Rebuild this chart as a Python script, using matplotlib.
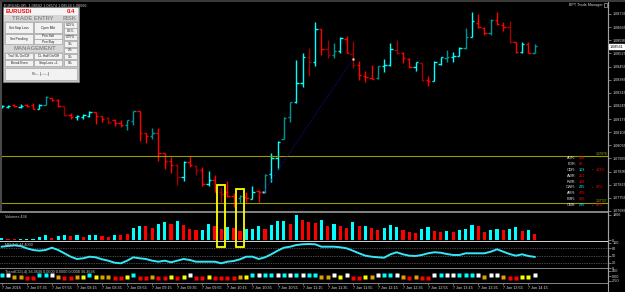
import matplotlib
matplotlib.use("Agg")
import matplotlib.pyplot as plt
import matplotlib.transforms as mtrans
from matplotlib.collections import LineCollection
from matplotlib.patches import Rectangle
from matplotlib.lines import Line2D
import numpy as np

plt.rcParams['font.family'] = ['Liberation Sans', 'DejaVu Sans']

# ------------------------------------------------------------------ data
opens = [1.08239, 1.08239, 1.08250, 1.08239, 1.08250, 1.08250, 1.08228, 1.08250, 1.08287, 1.08276,
         1.08244, 1.08196, 1.08186, 1.08186, 1.08191, 1.08212, 1.08191, 1.08180, 1.08170, 1.08154,
         1.08143, 1.08164, 1.08218, 1.08101, 1.08085, 1.08101, 1.07994, 1.07951, 1.07930, 1.07866,
         1.07946, 1.07925, 1.07903, 1.07829, 1.07850, 1.07786, 1.07786, 1.07765, 1.07754, 1.07759,
         1.07749, 1.07791, 1.07786, 1.07882, 1.07967, 1.08069, 1.08186, 1.08266, 1.08367, 1.08506,
         1.08479, 1.08655, 1.08548, 1.08516, 1.08538, 1.08602, 1.08522, 1.08463, 1.08404, 1.08394,
         1.08394, 1.08458, 1.08463, 1.08543, 1.08527, 1.08495, 1.08452, 1.08474, 1.08383, 1.08378,
         1.08468, 1.08500, 1.08506, 1.08511, 1.08554, 1.08612, 1.08687, 1.08660, 1.08634, 1.08703,
         1.08676, 1.08666, 1.08586, 1.08532, 1.08575, 1.08527]
highs = [1.08250, 1.08250, 1.08255, 1.08255, 1.08255, 1.08260, 1.08255, 1.08298, 1.08287, 1.08282,
         1.08244, 1.08207, 1.08196, 1.08202, 1.08218, 1.08212, 1.08191, 1.08186, 1.08175, 1.08170,
         1.08170, 1.08218, 1.08218, 1.08101, 1.08127, 1.08127, 1.07994, 1.07973, 1.07935, 1.07951,
         1.07978, 1.07930, 1.07919, 1.07898, 1.07877, 1.07813, 1.07845, 1.07781, 1.07770, 1.07786,
         1.07818, 1.07797, 1.07882, 1.07994, 1.08058, 1.08186, 1.08266, 1.08490, 1.08527, 1.08554,
         1.08692, 1.08655, 1.08596, 1.08580, 1.08612, 1.08618, 1.08591, 1.08484, 1.08431, 1.08463,
         1.08458, 1.08495, 1.08580, 1.08596, 1.08532, 1.08500, 1.08479, 1.08474, 1.08404, 1.08484,
         1.08506, 1.08543, 1.08532, 1.08559, 1.08660, 1.08746, 1.08735, 1.08666, 1.08708, 1.08746,
         1.08692, 1.08698, 1.08586, 1.08586, 1.08586, 1.08575]
lows = [1.08234, 1.08234, 1.08239, 1.08234, 1.08239, 1.08228, 1.08228, 1.08250, 1.08271, 1.08239,
        1.08191, 1.08175, 1.08170, 1.08175, 1.08186, 1.08149, 1.08159, 1.08149, 1.08138, 1.08133,
        1.08117, 1.08143, 1.08058, 1.08047, 1.08069, 1.07951, 1.07909, 1.07887, 1.07823, 1.07845,
        1.07919, 1.07877, 1.07818, 1.07818, 1.07786, 1.07733, 1.07759, 1.07706, 1.07727, 1.07733,
        1.07749, 1.07733, 1.07781, 1.07839, 1.07909, 1.08069, 1.08159, 1.08260, 1.08346, 1.08404,
        1.08458, 1.08516, 1.08500, 1.08500, 1.08527, 1.08527, 1.08447, 1.08383, 1.08372, 1.08388,
        1.08388, 1.08426, 1.08458, 1.08522, 1.08474, 1.08447, 1.08431, 1.08378, 1.08351, 1.08378,
        1.08463, 1.08479, 1.08479, 1.08511, 1.08548, 1.08612, 1.08660, 1.08623, 1.08623, 1.08676,
        1.08644, 1.08580, 1.08527, 1.08527, 1.08527, 1.08527]
closes = [1.08244, 1.08244, 1.08244, 1.08244, 1.08244, 1.08228, 1.08250, 1.08292, 1.08276, 1.08244,
          1.08196, 1.08186, 1.08191, 1.08196, 1.08212, 1.08191, 1.08175, 1.08159, 1.08154, 1.08143,
          1.08170, 1.08218, 1.08101, 1.08085, 1.08101, 1.07994, 1.07951, 1.07930, 1.07866, 1.07946,
          1.07930, 1.07903, 1.07829, 1.07850, 1.07786, 1.07775, 1.07765, 1.07759, 1.07765, 1.07754,
          1.07786, 1.07786, 1.07877, 1.07967, 1.08053, 1.08180, 1.08266, 1.08367, 1.08506, 1.08479,
          1.08655, 1.08548, 1.08516, 1.08538, 1.08607, 1.08527, 1.08463, 1.08410, 1.08399, 1.08388,
          1.08458, 1.08463, 1.08548, 1.08527, 1.08500, 1.08452, 1.08479, 1.08383, 1.08378, 1.08479,
          1.08506, 1.08506, 1.08511, 1.08554, 1.08612, 1.08698, 1.08666, 1.08634, 1.08703, 1.08682,
          1.08666, 1.08586, 1.08532, 1.08575, 1.08527, 1.08566]
# 1 = bar drawn in the darker shade
dark_bar = [0, 0, 0, 0, 0, 0, 0, 1, 0, 0,
            1, 0, 0, 0, 0, 0, 0, 1, 0, 0,
            1, 1, 0, 0, 1, 0, 0, 0, 1, 0,
            0, 1, 0, 0, 0, 1, 0, 0, 1, 0,
            0, 0, 1, 0, 0, 1, 1, 0, 0, 1,
            0, 0, 1, 1, 0, 0, 1, 0, 0, 0,
            1, 0, 0, 1, 0, 0, 0, 1, 0, 0,
            0, 1, 0, 0, 1, 0, 0, 0, 1, 0,
            0, 1, 0, 0, 0, 1]

volumes = [160, 80, 80, 80, 100, 100, 260, 420, 180, 340,
           420, 320, 400, 260, 420, 420, 320, 240, 420, 420,
           500, 980, 1120, 1120, 980, 1280, 1380, 1280, 1520, 1200,
           880, 800, 800, 1240, 1140, 880, 1020, 960, 720, 880,
           880, 1120, 880, 1200, 1460, 1520, 1280, 1966, 1600, 1420,
           1340, 1600, 1140, 1280, 1120, 940, 1420, 1120, 1120, 940,
           800, 940, 1200, 1020, 800, 660, 540, 860, 1020, 740,
           620, 740, 620, 800, 880, 1200, 1140, 620, 800, 860,
           800, 880, 1020, 740, 800, 436]
vol_rising = [1, 0, 0, 1, 1, 1, 1, 1, 0, 1,
              1, 0, 1, 0, 1, 1, 0, 0, 1, 0,
              0, 1, 1, 0, 0, 1, 1, 0, 1, 0,
              0, 0, 1, 1, 0, 0, 1, 0, 0, 1,
              1, 1, 0, 1, 1, 1, 0, 1, 0, 0,
              0, 1, 0, 1, 0, 0, 1, 0, 1, 0,
              0, 1, 1, 1, 0, 0, 0, 1, 1, 0,
              0, 1, 0, 1, 1, 1, 0, 0, 1, 1,
              0, 1, 1, 0, 1, 0]

mfi = [85.2, 88.0, 90.8, 88.0, 78.8, 72.0, 69.2, 72.0, 81.2, 72.0,
       58.8, 45.2, 36.0, 38.8, 45.2, 42.8, 34.8, 29.2, 21.2, 18.8,
       29.2, 42.8, 38.8, 36.0, 29.2, 25.2, 29.2, 22.8, 29.2, 36.0,
       32.0, 25.2, 25.2, 25.2, 25.2, 18.8, 25.2, 28.0, 34.8, 45.2,
       45.2, 36.0, 42.8, 54.8, 69.2, 81.2, 85.2, 92.0, 94.8, 96.0,
       94.8, 85.2, 85.2, 85.2, 82.8, 78.8, 69.2, 58.8, 49.2, 45.2,
       42.8, 41.2, 54.8, 62.8, 54.8, 49.2, 48.0, 52.0, 58.8, 62.8,
       61.2, 56.0, 52.0, 52.0, 58.8, 58.8, 58.8, 58.8, 65.2, 74.8,
       65.2, 56.0, 49.2, 54.8, 48.0, 44.4]
mfi_levels = [80, 50, 20]

# Trend CCI state per bar: c=strong up, w=up, y=flat, o=down, r=strong down
cci_state = ("cwoorrccwo" "rroycyoorr" "ycrrorryry" "wrryrrrroy" "cwccwcwcwc"
             "coowywrryo" "wccwororrw" "cwwcccwoww" "orryyw")

price_ticks = [1.08735, 1.08665, 1.08595, 1.08525, 1.08455, 1.08385, 1.08315, 1.08245,
               1.08175, 1.08105, 1.08035, 1.07965, 1.07895, 1.07825, 1.07755, 1.07685]
last_price = 1.08561
resistance = 1.07978
support = 1.07727
trend_x = [41.7, 56.0]
trend_y = [1.07786, 1.08495]

time_labels = ["7 Jan 2016", "7 Jan 07:35", "7 Jan 07:55", "7 Jan 08:15", "7 Jan 08:35",
               "7 Jan 08:55", "7 Jan 09:15", "7 Jan 09:35", "7 Jan 09:55", "7 Jan 10:15",
               "7 Jan 10:35", "7 Jan 10:55", "7 Jan 11:15", "7 Jan 11:35", "7 Jan 11:55",
               "7 Jan 12:15", "7 Jan 12:35", "7 Jan 12:55", "7 Jan 13:15", "7 Jan 13:35",
               "7 Jan 13:55", "7 Jan 14:15"]
time_label_step = 4

info_names = ["ADR:", "PDR:", "CDR:", "AWR:", "PWR:", "CWR:", "AMR:", "PMR:", "CMR:"]
info_values = ["108", "88", "103", "251", "198", "235", "476", "556", "235"]
info_current = [0, 0, 1, 0, 0, 1, 0, 0, 1]
info_pct = ["", "", "103%", "", "", "93%", "", "", "49%"]

title_text = "EURUSDi,M5  1.08562 1.08574 1.08524 1.08566"

# ------------------------------------------------------------------ figure
W, H = 625, 292
fig = plt.figure(figsize=(W / 100, H / 100), dpi=100, facecolor='black')

CYAN, DCYAN = '#00ffff', '#009393'
RED, DRED = '#ff0000', '#a00000'
GRAY = '#808080'
FS = 2.7
XLIM = (-0.27, 608 / 6.27 - 0.27)


def box(top, bottom, left=0, right=608):
    return [left / W, (H - bottom) / H, (right - left) / W, (bottom - top) / H]


def style_axes(a):
    a.set_facecolor('black')
    for s in a.spines.values():
        s.set_visible(False)
    a.spines['right'].set_visible(True)
    a.spines['right'].set_color('#a0a0a0')
    a.spines['right'].set_linewidth(0.8)
    a.yaxis.tick_right()
    a.tick_params(axis='y', colors='#a0a0a0', labelcolor='#dcdcdc', labelsize=FS,
                  length=2, width=0.5, pad=1)
    a.tick_params(axis='x', bottom=False, labelbottom=False)
    a.set_xlim(*XLIM)


n = len(opens)
xs = np.arange(n)

# ---------------- main price chart
ax = fig.add_axes(box(3, 211))
style_axes(ax)
ax.set_ylim(1.076848, 1.087936)
ax.set_yticks(price_ticks)
ax.set_yticklabels([f"{p:.5f}" for p in price_ticks])

segs, cols = [], []
for i in range(n):
    bull = closes[i] > opens[i]
    if bull:
        c = DCYAN if dark_bar[i] else CYAN
    else:
        c = DRED if dark_bar[i] else RED
    segs.append([(i, lows[i]), (i, highs[i])])
    segs.append([(i - 0.38, opens[i]), (i, opens[i])])
    segs.append([(i, closes[i]), (i + 0.38, closes[i])])
    cols += [c, c, c]
ax.add_collection(LineCollection(segs, colors=cols, linewidths=1.0, capstyle='butt'))

ax.axhline(resistance, color='#9a9a00', lw=0.8)
ax.axhline(support, color='#9a9a00', lw=0.8)
ax.plot(trend_x, trend_y, color='#1010a0', lw=0.8, ls=(0, (1, 1.5)))
ax.plot([trend_x[0]], [trend_y[0]], marker='s', ms=1.6, color='#c0b0ff', mec='none')
ax.plot([trend_x[1]], [trend_y[1]], marker='s', ms=1.8, color='#ffffc0', mec='none')

ytr = mtrans.blended_transform_factory(ax.transAxes, ax.transData)
ax.text(1.002, last_price, f"{last_price:.5f}", transform=ytr, fontsize=FS, color='black',
        va='center', ha='left', clip_on=False,
        bbox=dict(boxstyle='square,pad=0.15', fc='white', ec='white'))
ax.text(0.998, resistance + 0.00002, f"{resistance:.5f}", transform=ytr, fontsize=2.3,
        color='#b0b000', ha='right', va='bottom')
ax.text(0.998, support + 0.00002, f"{support:.5f}", transform=ytr, fontsize=2.3,
        color='#b0b000', ha='right', va='bottom')

# ---------------- volume panel
axv = fig.add_axes(box(213, 240))
style_axes(axv)
axv.bar(xs, volumes, width=0.5, color=[CYAN if r else RED for r in vol_rising], linewidth=0)
axv.set_ylim(0, 2123)
axv.set_yticks([0, max(volumes)])
axv.set_yticklabels(['0', str(max(volumes))])
axv.text(0.008, 0.93, f"Volumes {volumes[-1]}", transform=axv.transAxes, fontsize=FS,
         color='#c8c8c8', va='top')

# ---------------- MFI panel
axm = fig.add_axes(box(242, 268))
style_axes(axm)
axm.set_ylim(0, 104)
for lv in mfi_levels:
    axm.axhline(lv, color='#8c8c8c', lw=0.5, ls=(0, (1, 1.5)))
axm.plot(xs, mfi, color='#33e8f8', lw=1.4)
axm.set_yticks([0, 20, 50, 80, 100])
axm.set_yticklabels(['0', '20', '50', '80', '100'])
axm.text(0.008, 0.97, f"MFI(14) {mfi[-1]:.4f}", transform=axm.transAxes, fontsize=FS,
         color='#c8c8c8', va='top')

# ---------------- Trend CCI panel
axc = fig.add_axes(box(269, 283))
style_axes(axc)
axc.set_ylim(-350, 350)
state_color = {'c': CYAN, 'w': '#ffffff', 'y': '#ffff00', 'o': '#e0a000', 'r': RED}
state_level = {'c': 70, 'w': 50, 'y': -40, 'o': -40, 'r': -90}
for i, s in enumerate(cci_state):
    axc.plot(i, state_level[s], marker='s', ms=2.2, color=state_color[s], mec='none')
axc.set_yticks([-250, 0, 250])
axc.set_yticklabels(['-250', '0.00', '250'])
axc.text(0.008, 0.95, "TrendCCI(-4) 36.3636 0.0000 0.0000 0.0000 36.3636",
         transform=axc.transAxes, fontsize=FS, color='#c8c8c8', va='top')
axc.tick_params(axis='x', bottom=True, labelbottom=True, colors='#a0a0a0',
                labelcolor='#dcdcdc', labelsize=FS, length=1.5, width=0.5, pad=0.8)
axc.set_xticks(np.arange(len(time_labels)) * time_label_step)
axc.set_xticklabels(time_labels)
for lab in axc.get_xticklabels():
    lab.set_ha('left')

# ---------------- overlay (separators, panels, annotations)
ov = fig.add_axes([0, 0, 1, 1], zorder=10)
ov.set_xlim(0, W)
ov.set_ylim(H, 0)
ov.axis('off')
ov.patch.set_alpha(0)

ov.add_patch(Rectangle((0, 0), W, 2.2, fc='#3a3a3a', ec='none'))
ov.add_patch(Rectangle((0, 2), 1.8, 209, fc='#4a4a4a', ec='none'))
for y0, hh, col in [(210.8, 2.0, GRAY), (240.6, 1.0, '#d0d0d0'), (267.8, 1.6, GRAY), (282.8, 1.6, GRAY)]:
    ov.add_patch(Rectangle((0, y0), 608.5, hh, fc=col, ec='none'))
ov.plot([608, 608], [2, 292], color='#a0a0a0', lw=0.8)

ov.text(4, 5.2, title_text, fontsize=FS, color='#d0d0d0', va='center', ha='left')
ov.text(603, 5.2, "BPT Trade Manager", fontsize=FS, color='#d0d0d0', va='center', ha='right')
ov.add_patch(Rectangle((603.5, 2.8), 3.5, 4.5, fc='none', ec='#c0c0c0', lw=0.4))

# yellow highlight boxes around two bars, reaching into the volume panel
btr = mtrans.blended_transform_factory(ax.transData, ov.transData)
for bi, top in [(35, 185), (38, 189)]:
    ov.add_patch(Rectangle((bi - 0.62, top), 1.24, 247 - top, transform=btr,
                           fc='none', ec='#ffff00', lw=1.3, clip_on=False))

# range info table
for k, name in enumerate(info_names):
    yy = 158 + 5.9 * k
    ov.text(576, yy, name, fontsize=FS, color='#e0e0e0', ha='right', va='center')
    ov.text(579, yy, info_values[k], fontsize=FS, ha='left', va='center',
            color=CYAN if info_current[k] else RED)
    if info_pct[k]:
        ov.text(592, yy, "-", fontsize=FS, color='#e0e0e0', ha='left', va='center')
        ov.text(596, yy, info_pct[k], fontsize=FS, color=RED, ha='left', va='center')

# trade manager panel
ov.add_patch(Rectangle((3, 7), 76, 75, fc='#c4c4c4', ec='#8a8a8a', lw=0.5))
ov.add_patch(Rectangle((4, 8), 74, 7, fc='#f4f4f4', ec='none'))
ov.text(5.5, 11.6, "EURUSDi", fontsize=4.2, color='#ff0000', weight='bold', va='center')
ov.text(75, 11.6, "0.4", fontsize=4.2, color='#ff0000', weight='bold', va='center', ha='right')
ov.add_patch(Rectangle((4, 15), 74, 6, fc='#d6d6d6', ec='none'))
ov.text(33, 18.2, "TRADE ENTRY", fontsize=4.2, color='#8c8c8c', weight='bold', va='center', ha='center')
ov.text(70, 18.2, "RISK", fontsize=4.2, color='#8c8c8c', weight='bold', va='center', ha='center')
ov.add_patch(Rectangle((4, 45), 59, 7, fc='#d6d6d6', ec='none'))
ov.text(35, 48.6, "MANAGEMENT", fontsize=4.2, color='#8c8c8c', weight='bold', va='center', ha='center')

buttons = [("Set Stop Loss", 5, 22, 28, 11), ("Open Mkt", 34, 22, 28, 11),
           ("Set Pending", 5, 34, 28, 10), ("Pen Sell", 34, 34, 28, 4.6),
           ("Pen Buy", 34, 39.2, 28, 4.8),
           ("Trail SL On/Off", 5, 53, 28, 6), ("CL Half On/Off", 34, 53, 28, 6),
           ("Break Even", 5, 60, 28, 6), ("Stop Loss +1", 34, 60, 28, 6),
           ("0.25%", 64, 22, 13, 5.6), ("0.5%", 64, 28.4, 13, 5.6), ("0.75%", 64, 34.6, 13, 5.6),
           ("1%", 64, 41, 13, 5.8), ("2%", 64, 47.6, 13, 5.6), ("3%", 64, 53.8, 13, 5.6),
           ("5%", 64, 60, 13, 5.8)]
for label, bx, by, bw, bh in buttons:
    ov.add_patch(Rectangle((bx, by), bw, bh, fc='#f2f2f2', ec='#9a9a9a', lw=0.4))
    ov.text(bx + bw / 2, by + bh / 2, label, fontsize=2.3, color='#202020', ha='center', va='center')
ov.add_patch(Rectangle((5, 67.5), 72, 12.5, fc='#f2f2f2', ec='#9a9a9a', lw=0.4))
ov.text(41, 73.8, "S:-- (--:--)", fontsize=3.0, color='#202020', ha='center', va='center')

fig.savefig("out.png", dpi=100, facecolor='black')
